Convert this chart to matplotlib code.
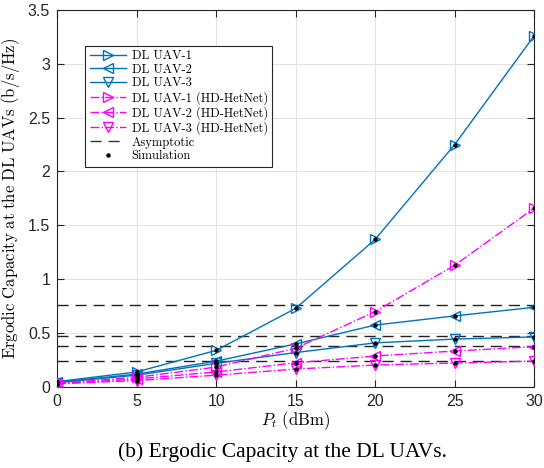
import matplotlib
matplotlib.use("Agg")
import matplotlib.pyplot as plt
from matplotlib.lines import Line2D

pt = [0, 5, 10, 15, 20, 25, 30]
uav1 = [0.05, 0.14, 0.34, 0.73, 1.37, 2.25, 3.26]
uav2 = [0.045, 0.12, 0.24, 0.40, 0.575, 0.66, 0.74]
uav3 = [0.04, 0.11, 0.22, 0.32, 0.41, 0.445, 0.465]
hd1 = [0.035, 0.09, 0.185, 0.36, 0.70, 1.13, 1.66]
hd2 = [0.03, 0.075, 0.14, 0.225, 0.288, 0.334, 0.374]
hd3 = [0.03, 0.06, 0.11, 0.167, 0.204, 0.223, 0.241]
asymptotes = [0.765, 0.475, 0.385, 0.24]

xticks = [0, 5, 10, 15, 20, 25, 30]
yticks = [0, 0.5, 1, 1.5, 2, 2.5, 3, 3.5]

plt.rcParams['mathtext.fontset'] = 'cm'
blue = '#0072BD'
mag = '#FF00FF'

fig = plt.figure(figsize=(5.44, 4.68), dpi=100)
ax = fig.add_axes([0.105, 0.173, 0.877, 0.806])

for a in asymptotes:
    ax.axhline(a, color='#222222', ls=(0, (8, 5)), lw=1.0, zorder=2)

series = [
    (uav1, blue, '-', '>', 'DL UAV-1'),
    (uav2, blue, '-', '<', 'DL UAV-2'),
    (uav3, blue, '-', 'v', 'DL UAV-3'),
    (hd1, mag, '-.', '>', 'DL UAV-1 (HD-HetNet)'),
    (hd2, mag, '-.', '<', 'DL UAV-2 (HD-HetNet)'),
    (hd3, mag, '-.', 'v', 'DL UAV-3 (HD-HetNet)'),
]
handles = []
for ys, c, ls, m, lab in series:
    ax.plot(pt, ys, color=c, ls=ls, lw=1.0, marker=m, ms=7, mfc='none', mec=c, mew=1.0, zorder=3)
    ax.plot(pt, ys, ls='none', marker='o', ms=2.2, color='k', zorder=4)
    handles.append(Line2D([], [], color=c, ls=ls, lw=1.0, marker=m, ms=7, mfc='none', mec=c, label=lab))
handles.append(Line2D([], [], color='#333333', ls=(0, (8, 5)), lw=1.0, label='Asymptotic'))
handles.append(Line2D([], [], color='k', ls='none', marker='o', ms=2.2, label='Simulation'))

ax.set_xlim(0, 30)
ax.set_ylim(0, 3.5)
ax.set_xticks(xticks)
ax.set_yticks(yticks)
ax.set_xticklabels([str(v) for v in xticks], family='Liberation Sans', fontsize=11.5)
ax.set_yticklabels([('%g' % v) for v in yticks], family='Liberation Sans', fontsize=11.5)
ax.grid(True, color='#e3e3e3', lw=0.8, zorder=0)
ax.set_axisbelow(True)
ax.tick_params(direction='in', top=True, right=True, length=5, width=0.8, colors='#262626', pad=5)
for s in ax.spines.values():
    s.set_color('#262626')
    s.set_linewidth(0.8)

ax.set_xlabel(r'$P_t\ \mathrm{(dBm)}$', fontsize=12, labelpad=0)
ax.set_ylabel(r'$\mathrm{Ergodic\ Capacity\ at\ the\ DL\ UAVs\ (b/s/Hz)}$', fontsize=12, labelpad=4)

leg = ax.legend(handles=handles, loc='upper left', bbox_to_anchor=(0.046, 0.922),
                prop={'family': 'DejaVu Serif', 'size': 9}, frameon=True, fancybox=False,
                edgecolor='#262626', framealpha=1, handlelength=2.9, borderpad=0.35,
                labelspacing=0.12, handletextpad=0.45)
leg.get_frame().set_linewidth(0.8)
for t in leg.get_texts():
    t.set_fontfamily('cmr10')

fig.text(0.52, 0.012, '(b) Ergodic Capacity at the DL UAVs.', ha='center', va='bottom',
         family='Liberation Serif', fontsize=15.5)

fig.savefig('out.png', dpi=100)
